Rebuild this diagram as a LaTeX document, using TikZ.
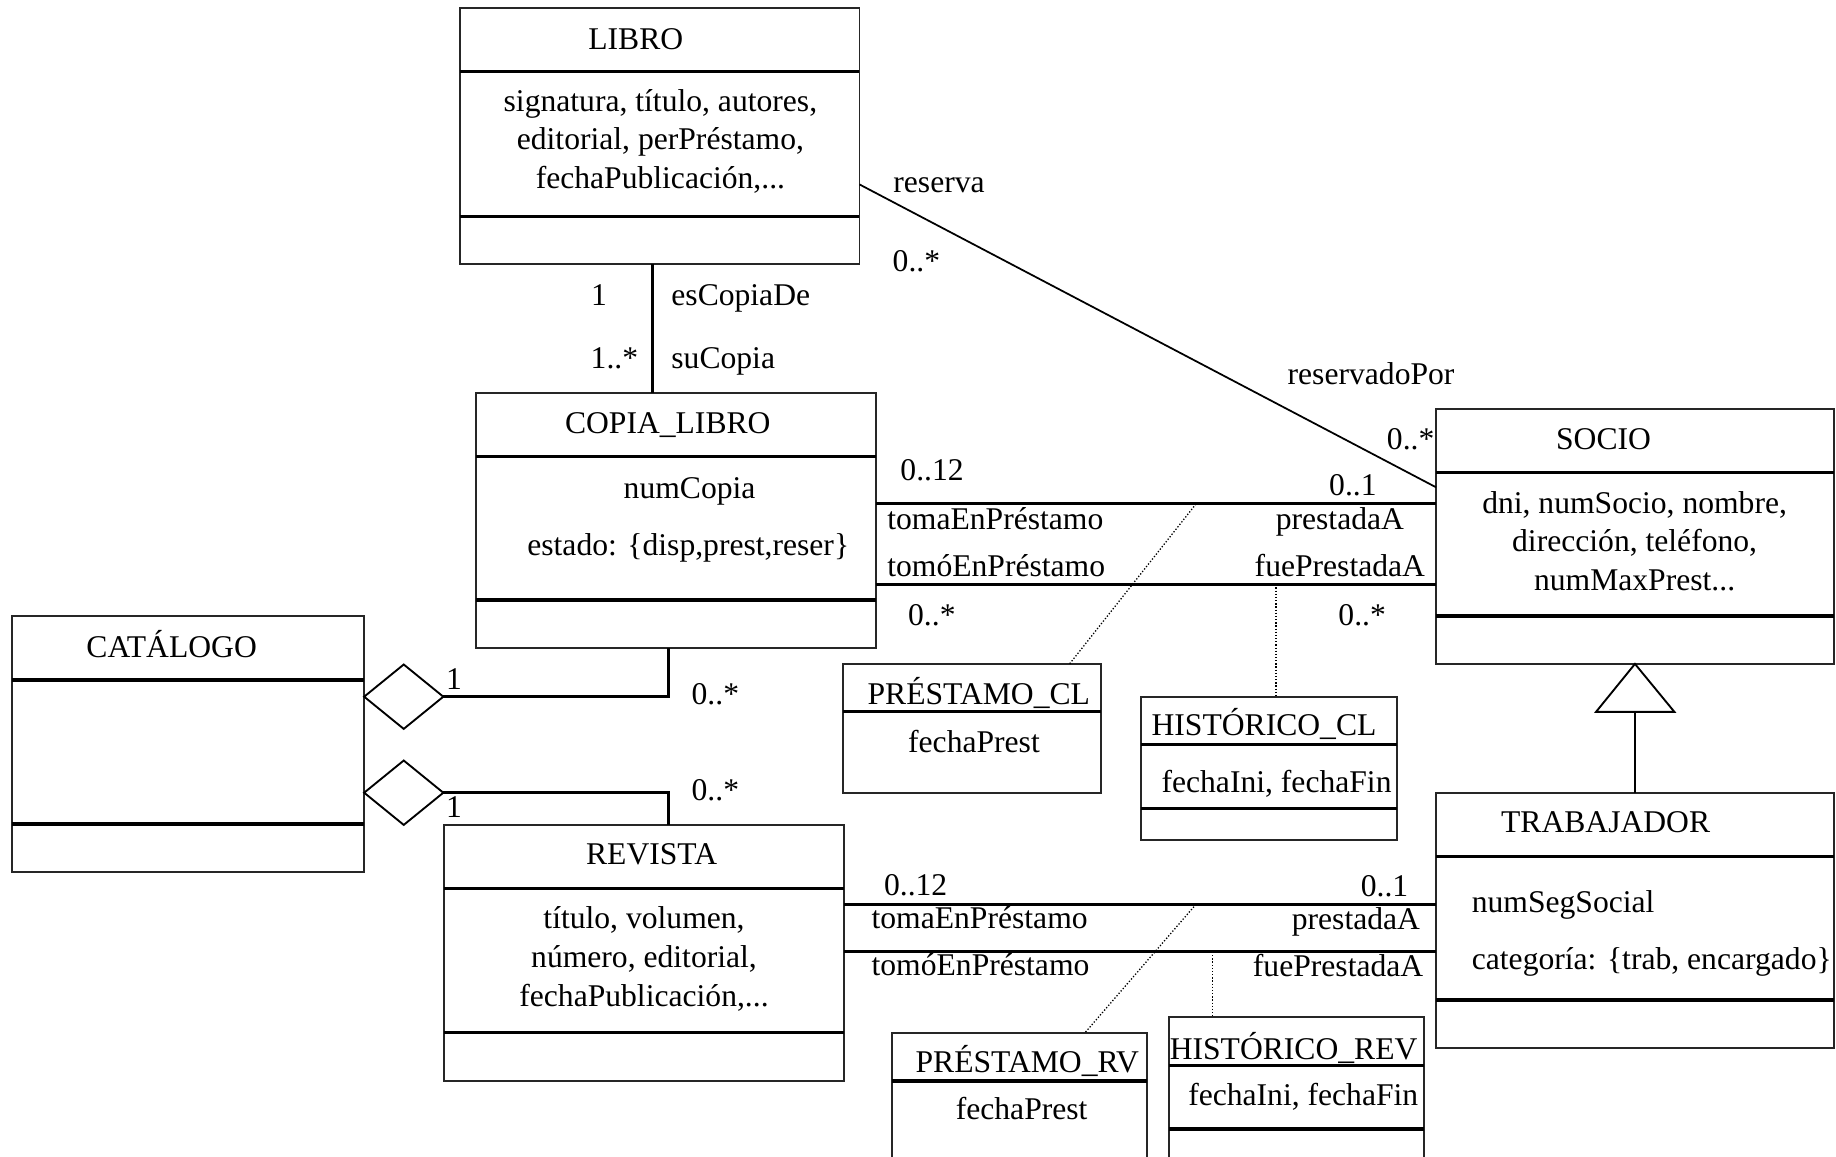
\documentclass[tikz,border=0pt]{standalone}
\usepackage{fontspec}
\setmainfont{Liberation Serif}
\usetikzlibrary{fit,shapes.geometric}
\newcommand{\umlclass}[6]{%
  \node[classbox, fit={(#2,#3) (#4,#5)}] (#1) {};
  \foreach \d in {#6} {\draw[divider] (#2,\d) -- (#4,\d);}
}
\newcommand{\mylabel}[5]{\node[anchor=#4] (#1) at (#2,#3) {#5};}
\begin{document}
\begin{tikzpicture}[x=0.5pt,y=-0.5pt,
  every node/.style={font=\fontsize{13.5}{16.4}\selectfont, inner sep=0pt, outer sep=0pt},
  classbox/.style={draw=black!85, line width=0.8pt, rectangle},
  divider/.style={line width=1.4pt},
  assoc/.style={line width=1.3pt},
  thinassoc/.style={line width=0.75pt},
  dotlink/.style={line width=0.55pt, dash pattern=on 0.55pt off 0.8pt},
  aggr/.style={draw, diamond, line width=0.8pt, minimum width=33.8pt, minimum height=27.5pt}]
\useasboundingbox (0,0) rectangle (1568,988);
\fill[white] (0,0) rectangle (1568,988);
\clip (0,0) rectangle (1568,988);

% ---------- classes ----------
\umlclass{libro}{392.5}{7.1}{734}{225.7}{61.2,185}
\umlclass{copia}{406.5}{335.3}{748.2}{553.7}{390,512.4}
\umlclass{catalogo}{10}{526}{311}{745}{580.7,703.8}
\umlclass{socio}{1226.5}{349.6}{1566.5}{567}{403.7,526}
\umlclass{trabajador}{1226.5}{677.3}{1566.5}{895.3}{731.6,854}
\umlclass{revista}{379.2}{704.5}{720.8}{922.9}{758.6,882}
\umlclass{prestamocl}{720}{567.3}{940}{677}{607.8}
\umlclass{historicocl}{974.4}{595.5}{1193}{717.4}{635.6,690.3}
\umlclass{prestamorv}{762}{882}{979.8}{1010}{923.2}
\umlclass{historicorev}{998.3}{868.2}{1216.4}{1010}{910,964.2}

% ---------- class texts ----------
\mylabel{tlibro}{543}{42.1}{base}{LIBRO}
\mylabel{alibroa}{564}{95.4}{base}{signatura, título, autores,}
\mylabel{alibrob}{564}{128}{base}{editorial, perPréstamo,}
\mylabel{alibroc}{564}{160.8}{base}{fechaPublicación,...}

\mylabel{tcopia}{570.3}{370}{base}{COPIA\_LIBRO}
\mylabel{acopiaa}{588.9}{425.6}{base}{numCopia}
\mylabel{acopiab}{587.8}{474}{base}{estado: \{disp,prest,reser\}}

\mylabel{tcatalogo}{146.6}{561.3}{base}{CATÁLOGO}

\mylabel{tsocio}{1369.5}{383.7}{base}{SOCIO}
\mylabel{asocioa}{1396}{438.4}{base}{dni, numSocio, nombre,}
\mylabel{asociob}{1396}{471}{base}{dirección, teléfono,}
\mylabel{asocioc}{1396}{503.9}{base}{numMaxPrest...}

\mylabel{ttrab}{1282}{711}{base west}{TRABAJADOR}
\mylabel{atraba}{1257}{779}{base west}{numSegSocial}
\mylabel{atrabb}{1257}{828.4}{base west}{categoría: \{trab, encargado\}}

\mylabel{trevista}{556.5}{738.7}{base}{REVISTA}
\mylabel{arevistaa}{550}{792.8}{base}{título, volumen,}
\mylabel{arevistab}{550}{826.4}{base}{número, editorial,}
\mylabel{arevistac}{550}{859.7}{base}{fechaPublicación,...}

\mylabel{tprestcl}{741}{601.5}{base west}{PRÉSTAMO\_CL}
\mylabel{aprestcl}{831.8}{642.8}{base}{fechaPrest}
\mylabel{thistcl}{983.5}{628.5}{base west}{HISTÓRICO\_CL}
\mylabel{ahistcl}{992}{677}{base west}{fechaIni, fechaFin}
\mylabel{tprestrv}{782}{916}{base west}{PRÉSTAMO\_RV}
\mylabel{aprestrv}{872.5}{956.5}{base}{fechaPrest}
\mylabel{thistrv}{999}{905}{base west}{HISTÓRICO\_REV}
\mylabel{ahistrv}{1014.8}{943.7}{base west}{fechaIni, fechaFin}

% ---------- connectors ----------
% esCopiaDe
\draw[assoc] (libro.south -| 557.2,0) -- (copia.north -| 557.2,0);
% reserva
\draw[thinassoc] (libro.east |- 0,157.5) -- (socio.west |- 0,416.2);
% COPIA_LIBRO - SOCIO
\draw[assoc] (copia.east |- 0,430.4) -- (socio.west |- 0,430.4);
\draw[assoc] (copia.east |- 0,499) -- (socio.west |- 0,499);
\coordinate (dcl1) at (1021.4,430.4);
\coordinate (dcl2) at (1089.7,499);
\draw[dotlink] (dcl1) -- (prestamocl.north -| 913.2,0);
\draw[dotlink] (dcl2) -- (historicocl.north -| dcl2);
% REVISTA - TRABAJADOR
\draw[assoc] (revista.east |- 0,772.3) -- (trabajador.west |- 0,772.3);
\draw[assoc] (revista.east |- 0,813) -- (trabajador.west |- 0,813);
\coordinate (drv1) at (1021.4,772.3);
\coordinate (drv2) at (1035.3,813);
\draw[dotlink] (drv1) -- (prestamorv.north -| 926.6,0);
\draw[dotlink] (drv2) -- (historicorev.north -| drv2);
% aggregations
\node[aggr] (agg1) at (344.8,595) {};
\node[aggr] (agg2) at (344.8,677) {};
\draw[assoc] (agg1.east) -| (copia.south -| 570.7,0);
\draw[assoc] (agg2.east) -| (revista.north -| 570.7,0);
% generalization
\coordinate (triapex) at (socio.south -| 1396.3,0);
\coordinate (tribase) at (1396.3,608);
\draw[line width=0.8pt] (triapex) -- (1430,608) -- (1363,608) -- cycle;
\draw[line width=1.1pt] (tribase) -- (trabajador.north -| tribase);

% ---------- connector labels ----------
\mylabel{m1}{511.5}{260.5}{base}{1}
\mylabel{r1}{573.4}{260.5}{base west}{esCopiaDe}
\mylabel{m2}{545}{314.5}{base east}{1..*}
\mylabel{r2}{573.4}{314.5}{base west}{suCopia}

\mylabel{r3}{763}{164.5}{base west}{reserva}
\mylabel{m3}{762.4}{232}{base west}{0..*}
\mylabel{r4}{1099.7}{328.8}{base west}{reservadoPor}
\mylabel{m4}{1225}{383.7}{base east}{0..*}

\mylabel{m5}{769}{410}{base west}{0..12}
\mylabel{r5}{757.8}{452}{base west}{tomaEnPréstamo}
\mylabel{r6}{757.8}{492}{base west}{tomóEnPréstamo}
\mylabel{m6}{775.6}{533.8}{base west}{0..*}
\mylabel{m7}{1175.7}{423.6}{base east}{0..1}
\mylabel{r7}{1199}{452}{base east}{prestadaA}
\mylabel{r8}{1217}{492}{base east}{fuePrestadaA}
\mylabel{m8}{1183.6}{533.8}{base east}{0..*}

\mylabel{m9}{381}{589}{base west}{1}
\mylabel{m10}{590.7}{602}{base west}{0..*}
\mylabel{m11}{381}{698}{base west}{1}
\mylabel{m12}{590.7}{683.8}{base west}{0..*}

\mylabel{m13}{755}{765}{base west}{0..12}
\mylabel{r9}{744.4}{792.8}{base west}{tomaEnPréstamo}
\mylabel{r10}{744.4}{833.5}{base west}{tomóEnPréstamo}
\mylabel{m14}{1202.7}{765.7}{base east}{0..1}
\mylabel{r11}{1212.7}{793.5}{base east}{prestadaA}
\mylabel{r12}{1215.5}{834}{base east}{fuePrestadaA}
\end{tikzpicture}
\end{document}
